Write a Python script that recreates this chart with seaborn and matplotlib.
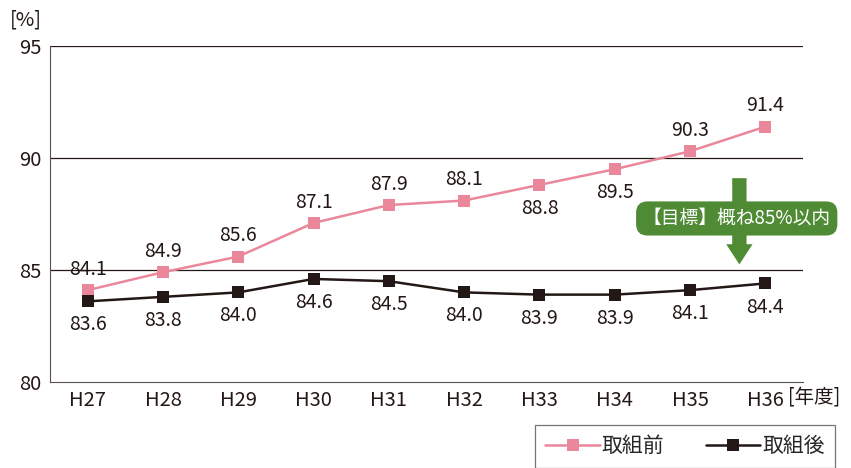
import matplotlib
matplotlib.use("Agg")
import matplotlib.pyplot as plt
import seaborn as sns
import pandas as pd
from matplotlib.patches import FancyArrow

years = ["H27", "H28", "H29", "H30", "H31", "H32", "H33", "H34", "H35", "H36"]
before = [84.1, 84.9, 85.6, 87.1, 87.9, 88.1, 88.8, 89.5, 90.3, 91.4]
after = [83.6, 83.8, 84.0, 84.6, 84.5, 84.0, 83.9, 83.9, 84.1, 84.4]
series_names = ["取組前", "取組後"]
# label placement for the pink series: +1 above, -1 below
before_side = [1, 1, 1, 1, 1, 1, -1, -1, 1, 1]

sns.set_style("white")
plt.rcParams["font.family"] = ["Noto Sans CJK JP", "DejaVu Sans"]

pink = "#EA879B"
black = "#231815"
green = "#4F8A34"

df = pd.DataFrame({"year": years * 2,
                   "value": before + after,
                   "series": [series_names[0]] * 10 + [series_names[1]] * 10})

fig = plt.figure(figsize=(8.51, 4.68), dpi=100)
ax = fig.add_axes([0.0588, 0.1838, 0.8848, 0.7179])

sns.lineplot(data=df, x="year", y="value", hue="series",
             palette=[pink, black], marker="s", markersize=8,
             markeredgewidth=0, linewidth=1.8, ax=ax, legend=False)

ax.set_ylim(80, 95)
ax.set_xlim(-0.5, 9.5)
ax.set_yticks([80, 85, 90, 95])
for y in [85, 90, 95]:
    ax.axhline(y, color="#231815", linewidth=0.9, zorder=0)
ax.set_xlabel("")
ax.set_ylabel("")
for s in ["top", "right"]:
    ax.spines[s].set_visible(False)
ax.spines["left"].set_color("#5a5050")
ax.spines["bottom"].set_color("#5a5050")
ax.tick_params(axis="both", length=0, labelsize=14.5, colors="#231815", pad=6)

for i, v in enumerate(before):
    off = 15 if before_side[i] > 0 else -17
    ax.annotate(f"{v:.1f}", (i, v), xytext=(0, off), textcoords="offset points",
                ha="center", va="center", fontsize=14, color="#231815")
for i, v in enumerate(after):
    ax.annotate(f"{v:.1f}", (i, v), xytext=(0, -17), textcoords="offset points",
                ha="center", va="center", fontsize=14, color="#231815")

fig.text(0.012, 0.958, "[%]", fontsize=14.5, color="#231815", ha="left", va="center")
fig.text(0.926, 0.151, "[年度]", fontsize=14, color="#231815", ha="left", va="center")

# target arrow and badge
ax.add_patch(FancyArrow(8.655, 89.1, 0, -3.85, width=0.19, head_width=0.35,
                        head_length=0.9, length_includes_head=True,
                        color=green, linewidth=0, zorder=4))
ax.text(8.62, 87.3, "【目標】概ね85%以内", fontsize=13.5, color="white",
        ha="center", va="center", zorder=5,
        bbox=dict(boxstyle="round,pad=0.35,rounding_size=0.6", fc=green, ec="none"))

handles = [plt.Line2D([], [], color=pink, marker="s", markersize=8, markeredgewidth=0, linewidth=1.8),
           plt.Line2D([], [], color=black, marker="s", markersize=8, markeredgewidth=0, linewidth=1.8)]
leg = fig.legend(handles, series_names, loc="upper left", bbox_to_anchor=(0.6287, 0.092),
                 ncol=2, fontsize=15, frameon=True, fancybox=False, handlelength=2.6,
                 columnspacing=2.0, borderpad=0.5, handletextpad=0.1, borderaxespad=0)
leg.get_frame().set_edgecolor("#5a5050")
leg.get_frame().set_linewidth(0.9)

fig.savefig("out.png", dpi=100)
